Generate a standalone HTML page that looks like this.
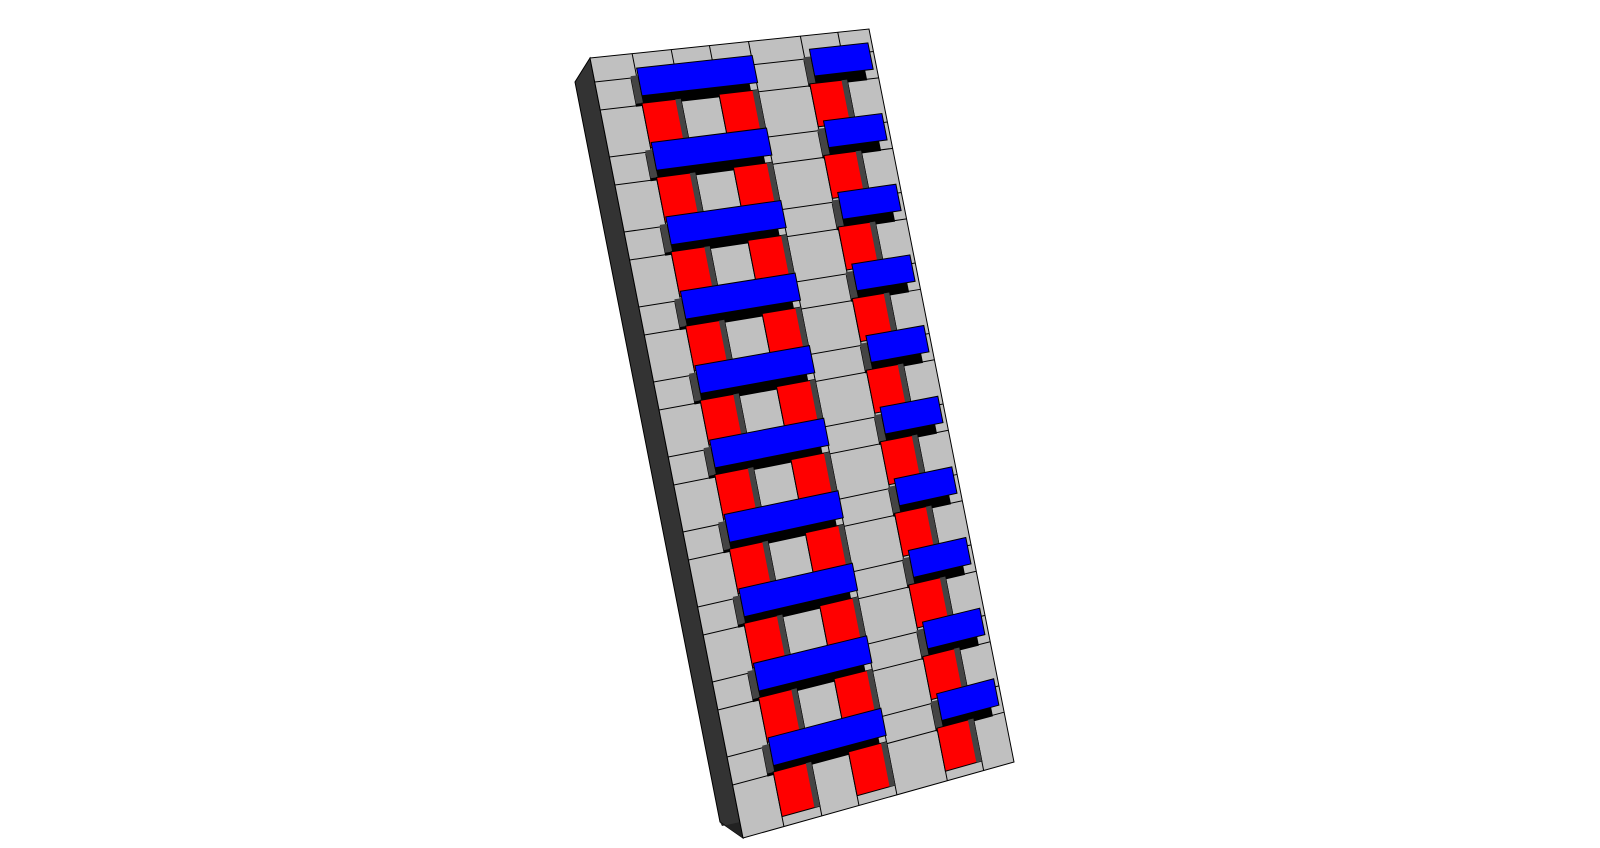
<!DOCTYPE html>
<html><head><meta charset="utf-8"><style>
html,body{margin:0;padding:0;background:#fff;width:1600px;height:848px;overflow:hidden}
svg{display:block}
</style></head><body>
<svg id="chart" width="1600" height="848" viewBox="0 0 1600 848" xmlns="http://www.w3.org/2000/svg"></svg>
<script>
// data: rows of block pairs, column boundaries (fractions), block layout
const pairIndices = [0,1,2,3,4,5,6,7,8,9];
const redColumns = [1,3,5];
const blueBars = [[0.13,0.545],[0.75,0.96]];
const colBounds = [0,0.151,0.291,0.428,0.568,0.754,0.888,1];

const TL=[590,58],TR=[869,29],BL=[743,838],BR=[1014,762];
const svg=document.getElementById('chart');
const NS='http://www.w3.org/2000/svg';
function lerp(a,b,t){return [a[0]+(b[0]-a[0])*t,a[1]+(b[1]-a[1])*t];}
function fy(y){return (y-58)/780;}
function P(u,f){return lerp(lerp(TL,BL,f),lerp(TR,BR,f),u);}
function quad(u0,u1,f0,f1,dx,dy){dx=dx||0;dy=dy||0;
  return [P(u0,f0),P(u1,f0),P(u1,f1),P(u0,f1)].map(p=>(p[0]+dx).toFixed(1)+','+(p[1]+dy).toFixed(1)).join(' ');}
function poly(pts,fill,name,stroke){
  const e=document.createElementNS(NS,'polygon');
  e.setAttribute('points',pts);e.setAttribute('fill',fill);
  if(stroke){e.setAttribute('stroke',stroke);e.setAttribute('stroke-width','1');}
  
  
  svg.appendChild(e);return e;}
function line(a,b,name){
  const e=document.createElementNS(NS,'line');
  e.setAttribute('x1',a[0]);e.setAttribute('y1',a[1]);e.setAttribute('x2',b[0]);e.setAttribute('y2',b[1]);
  e.setAttribute('stroke','#000');e.setAttribute('stroke-width','1');
  
  
  svg.appendChild(e);}
// board side
poly('590,58 575,82 720,822 743,838','#333','board-left-side','#000');
poly('743,838 720,822 722,826 1014,762','#222','board-bottom-side');
// board top
poly(quad(0,1,0,1),'#c0c0c0','board-top','#000');
// grid lines
pairIndices.forEach(k=>{
  [82+75*k,110+75*k].forEach(y=>{const f=fy(y);line(P(0,f),P(1,f),'grid-row-line');});
});
colBounds.slice(1,-1).forEach(u=>line(P(u,0),P(u,1),'grid-col-line'));
// blocks
pairIndices.forEach(k=>{
  const fb0=fy(80+75*k), fb1=fy(108+75*k);
  blueBars.forEach((b,i)=>{
    poly(quad(b[0],b[1],fb0,fb1,0,3),'#000','blue-block-shadow');
    poly(quad(b[0],b[0]+0.025,fb0,fb1,0,0),'#444','blue-block-side');
    poly(quad(b[0],b[1],fb0,fb1,6,-8),'#0000ff','blue-block-'+(i?'short':'long'),'#000');
  });
  const fr0=fy(108+75*k), fr1=fy(153+75*k);
  redColumns.forEach(c=>{
    const u0=colBounds[c],u1=colBounds[c+1];
    poly(quad(u0,u1,fr0,fr1),'#ff0000','red-block','#000');
    poly(quad(u1-0.02,u1,fr0,fr1),'#444','red-block-side');
  });
});
</script>
</body></html>
